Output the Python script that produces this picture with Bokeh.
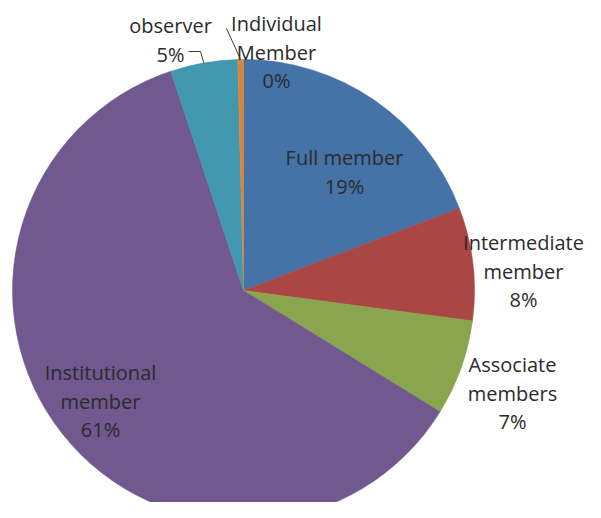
import math
from bokeh.plotting import figure
from bokeh.models import Range1d
from bokeh.core.properties import value
from bokeh.embed import file_html
from bokeh.resources import INLINE

# ---- data ----
categories = ["Full member", "Intermediate member", "Associate members",
              "Institutional member", "observer", "Individual Member"]
label_lines = [["Full member"], ["Intermediate", "member"], ["Associate", "members"],
               ["Institutional", "member"], ["observer"], ["Individual", "Member"]]
shares = [19.2, 7.9, 6.7, 61.1, 4.7, 0.4]
colors = ["#4572A7", "#AA4643", "#89A54E", "#71588F", "#4198AF", "#DB843D"]

# ---- layout (image pixel coordinates) ----
CX, CY, R = 243, 290, 231
label_pos = [(344, 157), (523, 242), (512, 364), (100, 372), (170, 25), (276, 23)]
LINE_H = 28.5
FONT = "20px"
TEXT_COLOR = "#2b2b2b"

p = figure(width=585, height=502, output_backend="svg", toolbar_location=None,
           x_range=Range1d(0, 585), y_range=Range1d(-502, 0),
           min_border=0, outline_line_color=None)
p.axis.visible = False
p.grid.visible = False
p.background_fill_color = "white"
p.border_fill_color = "white"

total = sum(shares)
cum = 0.0
starts, ends = [], []
for s in shares:
    starts.append(math.pi / 2 - 2 * math.pi * cum / total)
    cum += s
    ends.append(math.pi / 2 - 2 * math.pi * cum / total)

p.wedge(x=[CX] * len(shares), y=[-CY] * len(shares), radius=R,
        start_angle=starts, end_angle=ends, direction="clock",
        fill_color=colors, line_color=colors, line_width=0.5)

# labels
xs, ys, texts = [], [], []
for lines, s, (lx, ly) in zip(label_lines, shares, label_pos):
    all_lines = lines + ["%d%%" % round(s)]
    for i, t in enumerate(all_lines):
        xs.append(lx)
        ys.append(-(ly + i * LINE_H))
        texts.append(t)
p.text(x=xs, y=ys, text=texts, text_align="center", text_baseline="middle",
       text_font=value("Open Sans"), text_font_size=FONT, text_color=TEXT_COLOR)

# leader lines for small slices
def edge_point(idx):
    mid = (starts[idx] + ends[idx]) / 2
    return CX + R * math.cos(mid), CY - R * math.sin(mid)

ex, ey = edge_point(4)
p.line(x=[188, 200, ex], y=[-51, -51, -ey], line_color="#404040", line_width=1)
ex, ey = edge_point(5)
p.line(x=[226, ex], y=[-28, -ey], line_color="#404040", line_width=1)

open("out.html", "w").write(file_html(p, INLINE))
